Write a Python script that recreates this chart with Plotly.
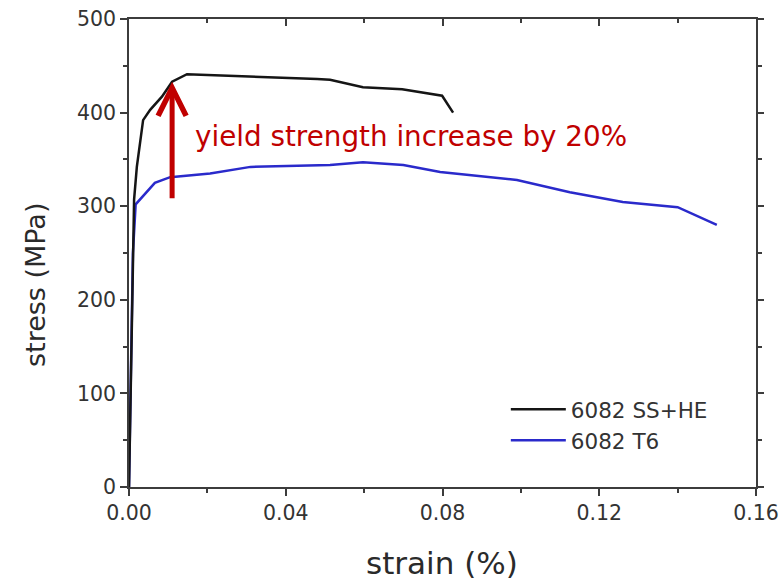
import plotly.graph_objects as go

# Stress-strain curves for two 6082 aluminium tempers
strain_sshe = [0.0, 0.001, 0.0013, 0.002, 0.0036, 0.0054, 0.0084, 0.011, 0.0148,
               0.048, 0.0513, 0.0597, 0.0697, 0.0799, 0.0827]
stress_sshe = [0, 250, 307, 342, 392, 403, 417, 433, 441,
               436, 435, 427, 425, 418, 400]

strain_t6 = [0.0, 0.001, 0.0017, 0.0066, 0.0105, 0.0207, 0.031, 0.0513, 0.0597,
             0.07, 0.0794, 0.099, 0.1125, 0.126, 0.14, 0.150]
stress_t6 = [0, 250, 302, 325, 331, 335, 342, 344, 347,
             344, 336.5, 328, 315, 304.5, 299, 280]

series_names = ["6082 SS+HE", "6082 T6"]
x_ticks = [0.00, 0.04, 0.08, 0.12, 0.16]
x_tick_labels = ["0.00", "0.04", "0.08", "0.12", "0.16"]
y_ticks = [0, 100, 200, 300, 400, 500]

# Yield-strength arrow: from the T6 level up to the SS+HE level
arrow_strain = 0.011
arrow_from = 307
arrow_to = 433
note_text = "yield strength increase by 20%"

FONT = "DejaVu Sans, sans-serif"
AXIS_COLOR = "#3c3c3c"
TEXT_COLOR = "#333333"

fig = go.Figure()
# T6 drawn first so the SS+HE curve sits on top in the elastic region
fig.add_trace(go.Scatter(x=strain_t6, y=stress_t6, mode="lines", name=series_names[1],
                         legendrank=2, line=dict(color="#2a2acb", width=2.5)))
fig.add_trace(go.Scatter(x=strain_sshe, y=stress_sshe, mode="lines", name=series_names[0],
                         legendrank=1, line=dict(color="#151515", width=2.5)))

# invisible trace to carry the mirrored top/right axes
fig.add_trace(go.Scatter(x=[0], y=[0], xaxis="x2", yaxis="y2", mode="markers",
                         marker=dict(opacity=0), showlegend=False, hoverinfo="skip"))

fig.add_annotation(x=arrow_strain, y=arrow_to, ax=arrow_strain, ay=arrow_from,
                   xref="x", yref="y", axref="x", ayref="y", text="",
                   showarrow=True, arrowhead=5, arrowwidth=5, arrowsize=1.1,
                   arrowcolor="#c00000")
fig.add_annotation(x=0.0163, y=374, xref="x", yref="y", text=note_text,
                   showarrow=False, xanchor="left", yanchor="middle",
                   font=dict(family=FONT, size=27.8, color="#c00000"))

# axis titles
fig.add_annotation(x=0.4985, y=-0.162, xref="paper", yref="paper", text="strain (%)",
                   showarrow=False, xanchor="center", yanchor="middle",
                   font=dict(family=FONT, size=31, color="#2a2a2a"))
fig.add_annotation(x=-0.148, y=216, xref="paper", yref="y", text="stress (MPa)",
                   showarrow=False, xanchor="center", yanchor="middle", textangle=-90,
                   font=dict(family=FONT, size=27, color="#2a2a2a"))

axis_common = dict(showgrid=False, zeroline=False, showline=True, linecolor=AXIS_COLOR,
                   linewidth=1.5, ticks="outside", tickcolor=AXIS_COLOR, tickwidth=1.5,
                   ticklen=7, automargin=False,
                   tickfont=dict(family=FONT, size=20.5, color=TEXT_COLOR))

fig.update_layout(
    width=780, height=582,
    margin=dict(l=129, r=24, t=19, b=95, autoexpand=False),
    paper_bgcolor="white", plot_bgcolor="white",
    showlegend=True,
    legend=dict(x=0.601, y=0.21, xanchor="left", yanchor="top",
                bgcolor="rgba(0,0,0,0)", font=dict(family=FONT, size=21.5, color=TEXT_COLOR),
                itemwidth=55, tracegroupgap=0),
    xaxis=dict(range=[0, 0.16], tickvals=x_ticks, ticktext=x_tick_labels,
               minor=dict(dtick=0.02, ticks="outside", ticklen=4, tickcolor=AXIS_COLOR, tickwidth=1.5),
               **axis_common),
    yaxis=dict(range=[0, 500], tickvals=y_ticks,
               minor=dict(dtick=50, ticks="outside", ticklen=4, tickcolor=AXIS_COLOR, tickwidth=1.5),
               **axis_common),
    xaxis2=dict(range=[0, 0.16], overlaying="x", side="top", showgrid=False, zeroline=False,
                showline=True, linecolor=AXIS_COLOR, linewidth=1.5, tickvals=x_ticks,
                automargin=False,
                ticks="inside", ticklen=7, tickwidth=1.5, tickcolor=AXIS_COLOR, showticklabels=False,
                minor=dict(dtick=0.02, ticks="inside", ticklen=4, tickcolor=AXIS_COLOR, tickwidth=1.5)),
    yaxis2=dict(range=[0, 500], overlaying="y", side="right", showgrid=False, zeroline=False,
                showline=True, linecolor=AXIS_COLOR, linewidth=1.5, tickvals=y_ticks,
                automargin=False,
                ticks="outside", ticklen=6, tickwidth=1.5, tickcolor=AXIS_COLOR, showticklabels=False,
                minor=dict(dtick=50, ticks="outside", ticklen=4, tickcolor=AXIS_COLOR, tickwidth=1.5)),
)

fig.write_html("out.html")
